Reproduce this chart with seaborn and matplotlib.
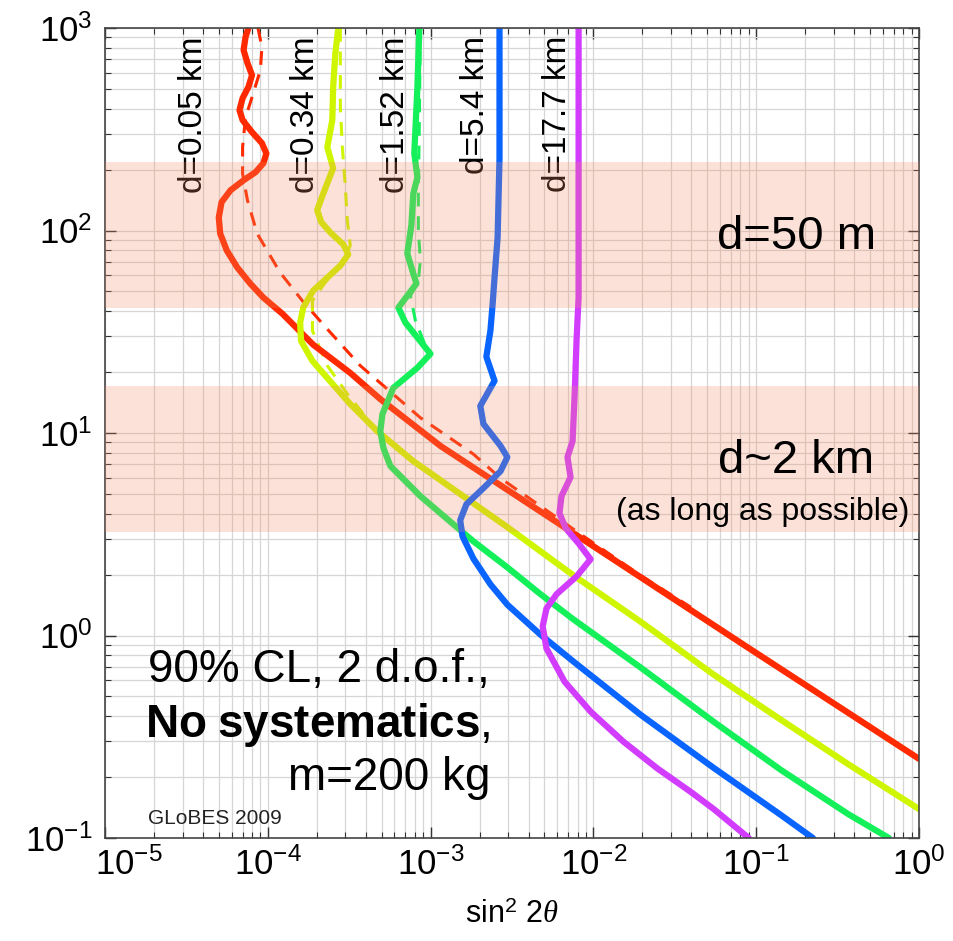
import numpy as np
import matplotlib
matplotlib.use("Agg")
import matplotlib.pyplot as plt
import matplotlib.ticker as mticker
import matplotlib.transforms as mtransforms
import seaborn as sns

# Sensitivity contours in the (sin^2 2theta, Delta m^2 [eV^2]) plane
baselines = ["d=0.05 km", "d=0.34 km", "d=1.52 km", "d=5.4 km", "d=17.7 km"]
line_colors = ["#ff2a00", "#cff500", "#14f05a", "#0a64ff", "#d23cff"]
label_x = [3.48e-5, 1.70e-4, 6.08e-4, 1.89e-3, 6.03e-3]

red_sin2 = [7.6e-5, 7.3e-5, 7.1e-5, 7.5e-5, 8.0e-5, 7.6e-5, 7.0e-5, 6.7e-5, 7.0e-5, 8.0e-5,
            9.2e-5, 9.8e-5, 9.4e-5, 8.4e-5, 7.1e-5, 5.9e-5, 5.2e-5, 5.0e-5, 5.1e-5, 5.6e-5,
            6.5e-5, 7.8e-5, 9.4e-5, 1.23e-4, 1.9e-4, 3.21e-4, 4.91e-4, 1.15e-3, 7.55e-3,
            8.87e-2, 1.0]
red_dm2 = [1000, 902, 778, 671, 585, 511, 450, 393, 351, 306,
           270, 240, 215, 194, 177, 158, 138, 116, 96.6, 79.6,
           65.6, 54.7, 46.6, 38.8, 27.3, 19.8, 14.7, 8.63, 3.20,
           0.873, 0.246]
red_dash_sin2 = [8.7e-5, 9.2e-5, 9.0e-5, 8.0e-5, 7.3e-5, 7.0e-5, 7.0e-5, 7.5e-5, 8.6e-5,
                 1.19e-4, 1.63e-4, 2.25e-4, 3.7e-4, 8.65e-4, 1.83e-3, 2.69e-3, 8.7e-3,
                 1.95e-2, 3.96e-2]
red_dash_dm2 = [1000, 805, 619, 455, 362, 258, 191, 141, 96.6,
                62, 45, 33.5, 21.5, 11.9, 7.87, 5.98, 3.09,
                1.98, 1.38]

yellow_sin2 = [2.71e-4, 2.60e-4, 2.52e-4, 2.49e-4, 2.32e-4, 2.52e-4, 2.19e-4, 2.01e-4, 2.13e-4,
               2.42e-4, 2.91e-4, 3.12e-4, 2.79e-4, 2.32e-4, 1.9e-4, 1.65e-4, 1.58e-4, 1.60e-4,
               1.88e-4, 2.32e-4, 3.21e-4, 4.71e-4, 7.83e-4, 1.15e-3, 2.96e-3, 7.55e-3,
               1.95e-2, 5.48e-2, 0.1416, 0.366, 1.0]
yellow_dm2 = [1000, 751, 511, 351, 258, 203, 152, 126, 110,
              97.8, 85.3, 76.1, 67.1, 58.5, 50.5, 41.6, 35.1, 28.5,
              22.7, 18.7, 13.9, 10.2, 7.26, 5.85, 3.43, 1.98,
              1.17, 0.641, 0.384, 0.232, 0.139]
yellow_dash_sin2 = [2.79e-4, 2.79e-4, 2.79e-4, 2.87e-4, 2.99e-4, 3.08e-4, 3.21e-4, 2.91e-4,
                    2.25e-4, 1.88e-4, 1.88e-4, 2.32e-4, 3.08e-4, 4.71e-4]
yellow_dash_dm2 = [1000, 599, 406, 258, 167, 112, 84.3, 69.5, 55.3, 45.0, 32.0, 21.5, 15.6, 10.2]

green_sin2 = [8.53e-4, 8.30e-4, 7.94e-4, 8.30e-4, 7.83e-4, 7.62e-4, 7.19e-4, 7.83e-4, 8.19e-4,
              6.34e-4, 7.00e-4, 9.98e-4, 8.30e-4, 5.90e-4, 5.06e-4, 4.91e-4, 5.13e-4, 5.66e-4,
              8.65e-4, 1.27e-3, 1.83e-3, 2.96e-3, 4.73e-3, 7.55e-3, 1.95e-2, 5.48e-2, 0.1416,
              0.366, 0.653]
green_dm2 = [1000, 511, 240, 183, 152, 106, 76.9, 61.2, 54.7,
             41.6, 35.1, 24.6, 21.0, 16.7, 12.4, 10.2, 8.43, 6.87,
             4.88, 3.75, 2.92, 2.17, 1.60, 1.20, 0.695, 0.375, 0.217,
             0.1315, 0.1]
green_dash_sin2 = [8.65e-4, 8.53e-4, 8.41e-4, 8.41e-4, 8.65e-4, 8.41e-4, 7.52e-4, 8.07e-4,
                   9.29e-4, 9.98e-4]
green_dash_dm2 = [1000, 351, 152, 100, 71.0, 56.5, 47.6, 35.8, 27.0, 24.6]

blue_sin2 = [2.65e-3, 2.65e-3, 2.58e-3, 2.47e-3, 2.40e-3, 2.33e-3, 2.20e-3, 2.47e-3, 2.02e-3,
             2.11e-3, 2.69e-3, 2.96e-3, 2.69e-3, 2.11e-3, 1.66e-3, 1.52e-3, 1.57e-3, 1.83e-3,
             2.33e-3, 2.96e-3, 4.73e-3, 7.55e-3, 1.95e-2, 5.48e-2, 0.1416, 0.223]
blue_dm2 = [1000, 227, 92.3, 58.5, 42.5, 32.0, 23.8, 18.1, 13.6,
            11.1, 8.63, 7.60, 6.48, 5.34, 4.45, 3.71, 3.09, 2.40,
            1.79, 1.42, 1.01, 0.743, 0.406, 0.222, 0.130, 0.1]

magenta_sin2 = [8.11e-3, 8.11e-3, 7.89e-3, 7.66e-3, 7.45e-3, 6.93e-3, 7.24e-3, 6.37e-3, 6.19e-3,
                6.75e-3, 8.11e-3, 9.61e-3, 7.89e-3, 5.94e-3, 5.15e-3, 4.88e-3, 5.15e-3, 6.65e-3,
                9.61e-3, 1.53e-2, 2.48e-2, 3.96e-2, 5.48e-2, 9.0e-2]
magenta_dm2 = [1000, 46.6, 29.5, 15.1, 9.12, 7.60, 6.05, 4.88, 4.02,
               3.39, 2.85, 2.38, 1.96, 1.60, 1.36, 1.11, 0.863, 0.592,
               0.421, 0.299, 0.220, 0.169, 0.139, 0.1]

# Preferred detector-distance bands in Delta m^2
band_ranges = [(41.5, 217.0), (3.25, 17.0)]
band_color = "#f38a62"

sns.set_theme(style="white")
plt.rcParams.update({
    "font.family": ["Liberation Sans", "DejaVu Sans"],
    "mathtext.fontset": "custom",
    "mathtext.rm": "Liberation Sans",
    "mathtext.bf": "Liberation Sans:bold",
    "mathtext.it": "Liberation Serif:italic",
    "axes.unicode_minus": True,
    "text.color": "black",
    "axes.labelcolor": "black",
    "xtick.color": "black",
    "ytick.color": "black",
})

W, H = 954, 941
fig = plt.figure(figsize=(W / 100, H / 100), dpi=100)
ax = fig.add_axes([105 / W, (H - 838) / H, 814 / W, 810 / H])
ax.set_xscale("log")
ax.set_yscale("log")

solid = [(red_sin2, red_dm2), (yellow_sin2, yellow_dm2), (green_sin2, green_dm2),
         (blue_sin2, blue_dm2), (magenta_sin2, magenta_dm2)]
dashed = [(red_dash_sin2, red_dash_dm2, line_colors[0]),
          (yellow_dash_sin2, yellow_dash_dm2, line_colors[1]),
          (green_dash_sin2, green_dash_dm2, line_colors[2])]

for xs, ys, c in dashed:
    sns.lineplot(x=xs, y=ys, sort=False, estimator=None, color=c, linewidth=2.2,
                 linestyle=(0, (4.5, 3.2)), ax=ax, zorder=2)
for (xs, ys), c in zip(solid, line_colors):
    sns.lineplot(x=xs, y=ys, sort=False, estimator=None, color=c, linewidth=4.5,
                 solid_capstyle="round", solid_joinstyle="round", ax=ax, zorder=2.5)

ax.set_xlim(1e-5, 1.0)
ax.set_ylim(0.1, 1000)

# baseline labels along the top
trans = mtransforms.blended_transform_factory(ax.transData, ax.transAxes)
for lx, txt in zip(label_x, baselines):
    ax.text(lx, 0.99, txt, transform=trans, rotation=90, ha="center", va="top",
            fontsize=24, color="black", zorder=3)

# shaded bands sit over the curves
for lo, hi in band_ranges:
    ax.axhspan(lo, hi, color=band_color, alpha=0.25, lw=0, zorder=5)

ax.text(0.849, 0.727, "d=50 m", transform=ax.transAxes, ha="center", va="baseline",
        fontsize=34, zorder=6)
ax.text(0.849, 0.4506, "d~2 km", transform=ax.transAxes, ha="center", va="baseline",
        fontsize=34, zorder=6)
ax.text(0.808, 0.3926, "(as long as possible)", transform=ax.transAxes, ha="center",
        va="baseline", fontsize=23, zorder=6)

ax.text(0.473, 0.193, "90% CL, 2 d.o.f.,", transform=ax.transAxes, ha="right",
        va="baseline", fontsize=33, zorder=6)
ax.text(0.473, 0.125, r"$\mathbf{No\ systematics}$,", transform=ax.transAxes, ha="right",
        va="baseline", fontsize=33, zorder=6)
ax.text(0.473, 0.059, "m=200 kg", transform=ax.transAxes, ha="right",
        va="baseline", fontsize=33, zorder=6)
ax.text(0.053, 0.0173, "GLoBES 2009", transform=ax.transAxes, ha="left",
        va="baseline", fontsize=15, color="#222222", zorder=6)

# grid, ticks, frame
ax.set_axisbelow(True)
ax.grid(True, which="both", color="#d6d6d6", linewidth=0.9)
ax.xaxis.set_major_locator(mticker.LogLocator(base=10, numticks=10))
ax.xaxis.set_minor_locator(mticker.LogLocator(base=10, subs=range(2, 10), numticks=10))
ax.yaxis.set_major_locator(mticker.LogLocator(base=10, numticks=10))
ax.yaxis.set_minor_locator(mticker.LogLocator(base=10, subs=range(2, 10), numticks=10))
ax.xaxis.set_minor_formatter(mticker.NullFormatter())
ax.yaxis.set_minor_formatter(mticker.NullFormatter())
ax.tick_params(which="major", direction="in", length=8, width=1, color="#333333",
               top=True, right=True, bottom=True, left=True, labelsize=25)
ax.tick_params(which="minor", direction="in", length=4, width=0.8, color="#333333",
               top=True, right=True, bottom=True, left=True)
ax.tick_params(axis="x", which="major", pad=7)
ax.tick_params(axis="y", which="major", pad=9)
for sp in ax.spines.values():
    sp.set_visible(True)
    sp.set_color("#444444")
    sp.set_linewidth(1.2)

ax.set_xlabel(r"sin$^{2}$ 2$\mathit{\theta}$", fontsize=22, labelpad=13)
ax.set_ylabel("")

# nudge the leftmost x tick label clear of the corner y label
fig.canvas.draw()
for tick in ax.xaxis.get_major_ticks():
    if np.isclose(tick.get_loc(), 1e-5):
        tick.label1.set_horizontalalignment("left")
        tick.label1.set_transform(tick.label1.get_transform()
                                  + mtransforms.ScaledTranslation(-0.1, 0, fig.dpi_scale_trans))

fig.savefig("out.png", dpi=100)
